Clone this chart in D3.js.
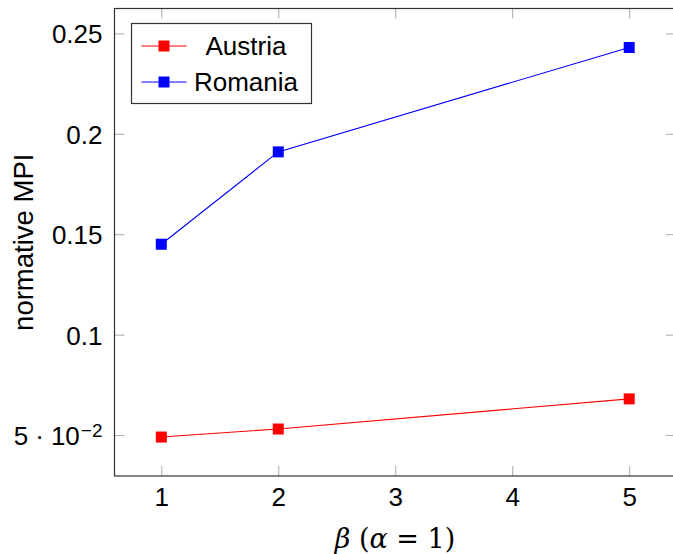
<!DOCTYPE html>
<html>
<head>
<meta charset="utf-8">
<script src="https://cdn.jsdelivr.net/npm/d3@7"></script>
<style>
  html, body { margin: 0; padding: 0; background: #fff; }
  svg { display: block; }
</style>
</head>
<body>
<svg id="chart" width="673" height="554"></svg>
<script>
// ---- data ----
const betaValues = [1, 2, 5];
const austria = [0.049, 0.053, 0.068];
const romania = [0.145, 0.191, 0.243];
const seriesNames = ["Austria", "Romania"];
const seriesColors = ["#ff0000", "#0000ff"];
const xTicks = [1, 2, 3, 4, 5];
const yTicks = [0.05, 0.1, 0.15, 0.2, 0.25];
const yTickLabels = ["5·10^-2", "0.1", "0.15", "0.2", "0.25"];

(function () {
const mL = 114.5, mR = 676, mT = 8.5, mB = 476;

const svg = d3.select("#chart");

// pgfplots-like 10% enlargement
const xr = d3.extent(betaValues), xpad = (xr[1] - xr[0]) * 0.1;
const allY = austria.concat(romania);
const yr = d3.extent(allY), ypad = (yr[1] - yr[0]) * 0.1;

const x = d3.scaleLinear().domain([xr[0] - xpad, xr[1] + xpad]).range([mL, mR]);
const y = d3.scaleLinear().domain([yr[0] - ypad, yr[1] + ypad]).range([mB, mT]);

const tickLen = 10;
const fontFam = '"Liberation Sans", Arial, sans-serif';
const fs = 26;

const axB = d3.axisBottom(x).tickValues(xTicks).tickSize(-tickLen).tickFormat(d3.format("d"));
const axT = d3.axisTop(x).tickValues(xTicks).tickSize(-tickLen).tickFormat("");
const axL = d3.axisLeft(y).tickValues(yTicks).tickSize(-tickLen).tickFormat("");
const axR = d3.axisRight(y).tickValues(yTicks).tickSize(-tickLen).tickFormat("");

function style(g) {
  g.select(".domain").remove();
  g.selectAll(".tick line").attr("stroke", "#a8a8a8").attr("stroke-width", 1);
}

svg.append("g").attr("transform", `translate(0,${mB})`).call(axB).call(style)
  .selectAll("text").attr("font-family", fontFam).attr("font-size", fs).attr("fill", "#000")
  .attr("y", 11).attr("dy", "0.72em");
svg.append("g").attr("transform", `translate(0,${mT})`).call(axT).call(style);
const gL = svg.append("g").attr("transform", `translate(${mL},0)`).call(axL).call(style);
svg.append("g").attr("transform", `translate(${mR},0)`).call(axR).call(style);

gL.selectAll(".tick").each(function(d, i) {
  const lab = yTickLabels[i];
  const t = d3.select(this).select("text")
    .attr("font-family", fontFam).attr("font-size", fs).attr("fill", "#000")
    .attr("x", -12).attr("dy", "0.36em").attr("text-anchor", "end");
  t.text(null);
  if (lab.includes("^")) {
    const [base, exp] = lab.split("^");
    const [m, b] = base.split("·");
    t.append("tspan").text(m);
    t.append("tspan").attr("dx", 7).text("·");
    t.append("tspan").attr("dx", 7).text(b);
    t.append("tspan").attr("dx", 1).attr("dy", "-0.42em").attr("font-size", 19).text(exp.replace("-", "\u2212"));
  } else {
    t.text(lab);
  }
});

svg.append("rect").attr("x", mL).attr("y", mT).attr("width", mR - mL).attr("height", mB - mT)
  .attr("fill", "none").attr("stroke", "#333").attr("stroke-width", 1.2);

const series = [austria, romania];
const line = d3.line().x((d, i) => x(betaValues[i])).y(d => y(d));
const ms = 11;
series.forEach((vals, s) => {
  svg.append("path").datum(vals).attr("d", line).attr("fill", "none")
    .attr("stroke", seriesColors[s]).attr("stroke-width", 1.1);
  svg.selectAll(null).data(vals).enter().append("rect")
    .attr("x", (d, i) => x(betaValues[i]) - ms / 2)
    .attr("y", d => y(d) - ms / 2)
    .attr("width", ms).attr("height", ms)
    .attr("fill", seriesColors[s]);
});

const lg = svg.append("g").attr("transform", "translate(131.5,23.5)");
lg.append("rect").attr("width", 180).attr("height", 80).attr("fill", "#fff")
  .attr("stroke", "#333").attr("stroke-width", 1.2);
seriesNames.forEach((name, i) => {
  const cy = 22.5 + i * 36;
  lg.append("line").attr("x1", 10).attr("x2", 55).attr("y1", cy).attr("y2", cy)
    .attr("stroke", seriesColors[i]).attr("stroke-width", 1.1);
  lg.append("rect").attr("x", 32.5 - ms / 2).attr("y", cy - ms / 2).attr("width", ms).attr("height", ms)
    .attr("fill", seriesColors[i]);
  lg.append("text").attr("x", 114.5).attr("y", cy).attr("dy", "0.36em")
    .attr("text-anchor", "middle").attr("font-family", fontFam).attr("font-size", fs).text(name);
});

svg.append("text").attr("transform", `translate(33,${(mT + mB) / 2}) rotate(-90)`)
  .attr("text-anchor", "middle").attr("font-family", fontFam).attr("font-size", 27.5).text("normative MPI");

const xl = svg.append("text").attr("x", 395).attr("y", 548)
  .attr("text-anchor", "middle").attr("font-family", '"DejaVu Serif", "Liberation Serif", serif').attr("font-size", 27);
xl.append("tspan").attr("font-style", "italic").text("β");
xl.append("tspan").text(" (");
xl.append("tspan").attr("font-style", "italic").text("α");
xl.append("tspan").text(" = 1)");
})();
</script>
</body>
</html>
